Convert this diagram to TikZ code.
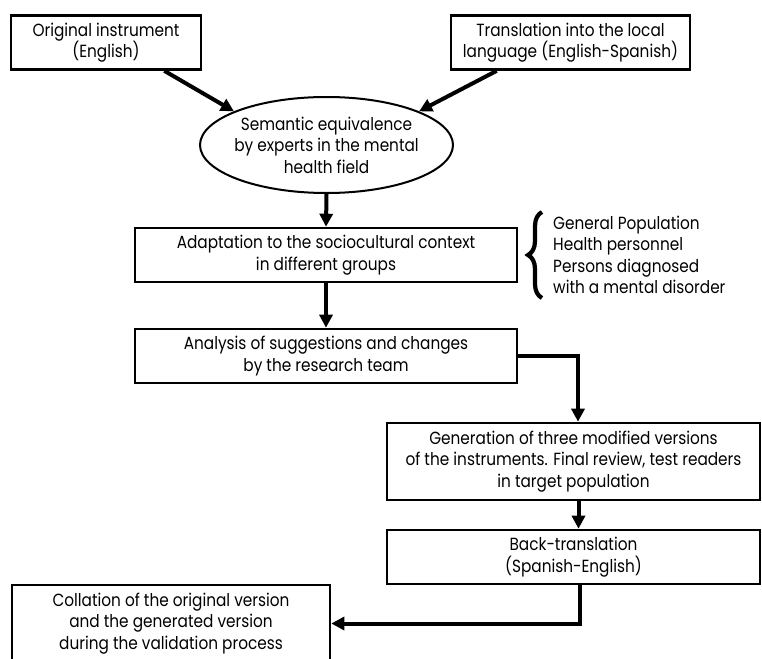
\documentclass[tikz,border=0pt]{standalone}
\usepackage{fontspec}
\setmainfont{Poppins}[FakeStretch=0.87]
\usetikzlibrary{shapes.geometric,arrows.meta,decorations.pathreplacing}
\begin{document}
\begin{tikzpicture}[x=1pt,y=-1pt,
  txt/.style={font=\fontsize{17.6}{21.5}\selectfont},
  box/.style={draw, line width=2.6pt, minimum height=54pt, align=center, inner sep=0pt, txt},
  arr/.style={line width=4pt, -{Triangle[length=13pt,width=13pt]}},
  elbow/.style={line width=4pt, -{Triangle[length=13pt,width=13pt]}}
]
\useasboundingbox (0,0) rectangle (762,658);

\node[box, minimum width=190pt] (b1) at (106,42.5) {Original instrument\\(English)};
\node[box, minimum width=239pt] (b2) at (570.5,42.5) {Translation into the local\\language (English-Spanish)};

\node[draw, ellipse, line width=2pt, minimum width=253pt, minimum height=96pt, inner sep=0pt] (ell) at (326.5,145) {};
\node[txt, align=center, inner sep=0pt] (ellt) at (ell.center) {Semantic equivalence\\by experts in the mental\\health field};

\node[box, minimum width=382pt] (b3) at (326,255) {Adaptation to the sociocultural context\\in different groups};
\node[box, minimum width=382pt] (b4) at (326,356) {Analysis of suggestions and changes\\by the research team};
\node[box, minimum width=373pt, minimum height=77pt] (b5) at (573.5,461.5) {Generation of three modified versions\\of the instruments. Final review, test readers\\in target population};
\node[box, minimum width=373pt] (b6) at (573.5,557) {Back-translation\\(Spanish-English)};
\node[box, minimum width=318pt, minimum height=77pt] (b7) at (171,623.5) {Collation of the original version\\and the generated version\\during the validation process};

\node[txt, align=left, anchor=west, inner sep=0pt] (grp) at (553,255) {General Population\\Health personnel\\Persons diagnosed\\with a mental disorder};
\draw[line width=4.2pt, decorate, decoration={brace, amplitude=14pt}] (542,298) -- (542,212);

\draw[arr] ([xshift=-38pt]b1.south east) -- (ell.160);
\draw[arr] ([xshift=47pt]b2.south west) -- (ell.20);
\draw[arr] (ell.south) -- (b3.north);
\draw[arr] (b3.south) -- (b4.north);
\draw[elbow] (b4.east) -| ([xshift=4.5pt]b5.north);
\draw[arr] ([xshift=5pt]b5.south) -- ([xshift=5pt]b6.north);
\draw[elbow] ([xshift=6pt]b6.south) |- (b7.east);
\end{tikzpicture}
\end{document}
